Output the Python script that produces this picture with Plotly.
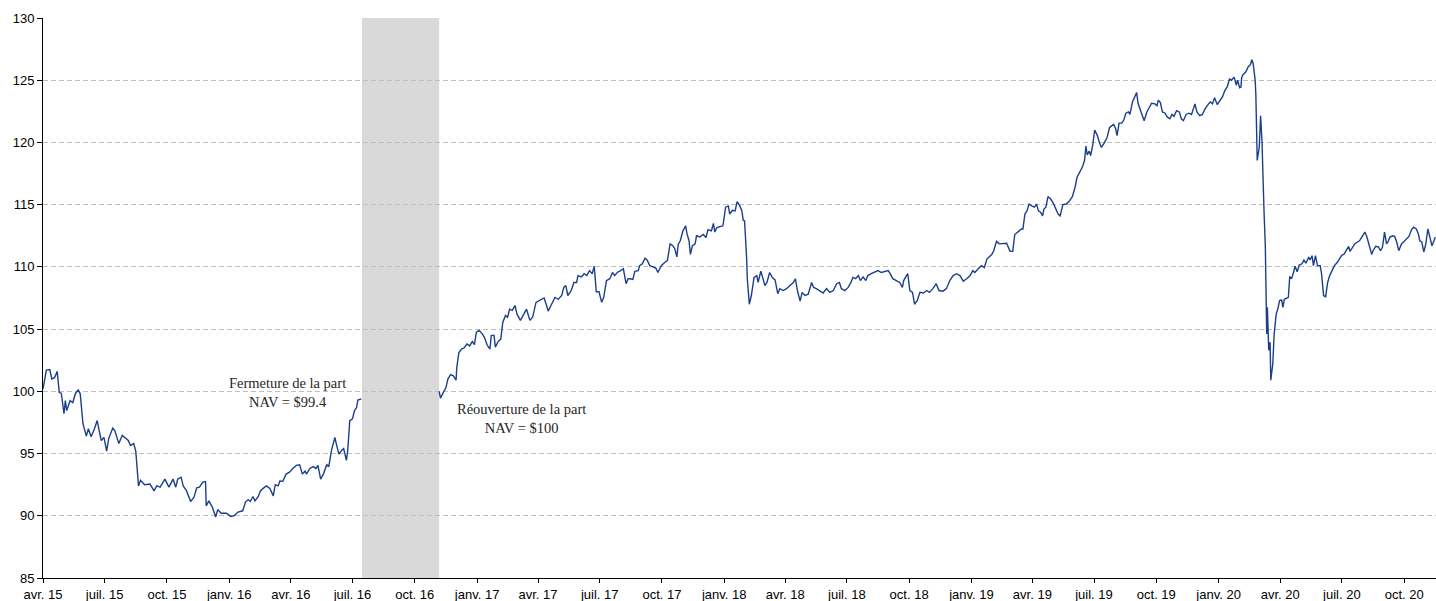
import pandas as pd
import plotly.graph_objects as go

START = pd.Timestamp("2015-04-01")

# Days since 2015-04-01 and NAV per share
days_a = [0,5,10,13,17,21,24,27,31,33,35,40,44,48,52,55,59,64,67,71,76,80,83,86,90,94,97,103,106,112,117,122,126,129,134,137,141,144,150,158,164,168,173,180,186,192,196,199,204,207,212,218,223,227,231,236,240,241,245,250,255,258,263,271,277,
          282,288,295,299,303,306,310,313,318,321,325,330,335,340,343,347,350,354,359,364,369,374,379,383,387,389,394,399,403,406,410,414,419,422,426,431,433,437,441,444,448,450,453,457,460,463,465,470]
nav_a = [100.2,101.7,101.75,101.0,101.1,101.6,99.9,99.85,98.2,99.25,98.45,99.25,99.1,99.85,100.1,99.8,97.4,96.4,97.0,96.35,97.0,97.65,96.85,96.05,96.3,95.2,96.2,97.05,96.85,95.8,96.45,96.25,96.05,95.65,95.8,95.2,92.4,92.85,92.5,92.55,92.0,92.4,92.3,92.95,92.3,92.95,92.3,92.95,93.1,92.4,92.0,91.15,91.5,92.25,92.3,92.7,92.75,90.8,91.2,90.7,89.9,90.5,90.2,90.2,89.95,
         90.0,90.3,90.4,91.1,91.3,91.15,91.55,91.2,91.55,92.0,92.2,92.4,92.2,91.6,92.5,92.4,92.8,92.75,93.35,93.5,93.8,94.05,94.1,93.35,93.6,93.35,93.8,93.95,93.8,94.05,92.95,93.35,94.1,93.95,95.25,96.3,95.8,94.95,95.25,95.4,94.45,95.25,97.65,97.8,98.45,98.7,99.3,99.4]

days_b = [585,587,591,595,598,602,606,610,611,614,618,622,626,630,634,637,640,644,649,652,656,660,662,666,668,672,676,679,683,686,689,693,697,700,705,709,714,719,723,728,734,740,743,746,751,756,761,766,769,772,775,780,784,788,790,795,799,803,807,811,814,817,821,825,828,832,837,841,844,848,853,857,861,864,867,871,874,879,881,885,889,892,896,901,905,908,913,918,922,926,930,933,936,938,941,945,949,951,954,956,959,963,965,970,975,979,982,987,990,992,995,1001,1004,1008,1012,1014,1018,1022,1025,1029,1032,1034,1036,1039,1040,1043,1046,1050,1054,1056,1060,1063,1066,1069,1073,1077,1081,1085,1088]
nav_b = [100.0,99.45,99.9,100.3,101.0,101.35,101.25,100.9,101.9,103.1,103.4,103.5,103.8,103.65,104.0,103.75,104.75,104.9,104.6,104.3,103.7,103.4,104.5,104.5,103.55,104.0,104.2,105.55,106.1,105.95,106.6,106.5,106.9,106.2,105.7,106.1,106.6,105.7,105.95,107.15,107.3,107.5,107.0,106.45,107.0,107.55,107.4,107.7,108.35,108.5,107.7,108.1,108.75,108.75,109.3,109.2,109.45,109.3,109.7,109.45,110.05,108.0,108.0,107.15,107.55,108.9,109.05,109.55,109.3,109.55,109.7,109.85,108.65,109.05,109.05,109.0,109.65,109.7,110.1,110.25,110.7,110.55,110.1,110.0,109.9,109.55,110.1,110.35,110.5,111.85,111.7,111.45,110.8,111.8,112.1,112.9,113.3,112.65,112.1,111.0,111.7,111.85,112.5,112.4,112.6,112.35,113.0,112.9,113.5,112.8,113.15,113.25,113.3,114.8,114.9,114.25,114.55,114.5,115.25,114.9,114.5,113.75,113.7,110.75,109.05,107.0,107.7,109.15,109.3,108.75,109.65,109.1,108.5,108.75,109.55,109.15,108.95,107.85,108.25]

days_c = [1093,1098,1103,1108,1111,1114,1118,1121,1125,1130,1135,1138,1142,1147,1152,1157,1162,1167,1172,1176,1179,1184,1189,1193,1196,1200,1204,1207,1211,1215,1218,1223,1228,1233,1238,1243,1248,1251,1255,1260,1265,1269,1271,1275,1277,1280,1284,1287,1291,1295,1300,1305,1309,1314,1319,1323,1329,1334,1339,1344,1349,1354,1359,1364,1369,1373,1376,1381,1386,1390,1394,1397,1401,1404,1408,1412,1417,1423,1428,1432,1435,1440,1445,1447,1450,1453,1456,1460,1464,1467,1470,1473,1476,1478,1481,1484,1488,1492,1496,1499,1502,1506,1511,1515,1520,1524,1527,1531,1535,1538,1540,1542,1545,1547,1550,1553,1557,1560,1563,1567,1571,1575,1578,1581,1584,1586,1589,1593,1596,1599,1603,1605,1609,1612,1615,1617]
nav_c = [108.1,108.25,108.5,108.75,109.05,108.1,107.25,107.95,107.7,107.8,108.75,108.35,108.25,108.1,107.9,108.25,107.95,108.1,108.65,108.75,108.25,108.1,108.35,108.75,109.15,109.05,109.3,108.9,109.2,108.9,109.3,109.45,109.55,109.7,109.55,109.65,109.7,109.45,109.05,108.9,108.75,108.35,108.9,109.3,109.45,108.1,107.95,107.0,107.3,107.95,107.9,108.1,107.95,108.25,108.65,108.1,108.05,108.25,108.9,109.3,109.45,109.3,108.85,109.05,109.3,109.7,109.55,109.85,110.1,109.95,110.65,110.8,111.0,111.3,112.05,111.85,111.9,111.9,111.25,111.25,112.6,112.85,113.05,113.05,114.25,114.5,115.05,114.9,114.8,115.05,114.5,114.4,114.1,114.65,114.8,115.65,115.45,115.1,114.65,114.25,114.1,115.0,115.05,115.25,115.65,116.4,117.2,117.6,118.05,118.55,119.7,119.0,119.3,118.95,119.75,121.0,120.55,120.0,119.6,119.95,120.35,121.2,121.3,121.45,121.1,120.55,121.55,121.55,121.8,122.35,122.45,122.25,123.3,123.7,124.0,123.15]

days_d = [1620,1624,1626,1630,1634,1637,1642,1645,1647,1650,1653,1657,1660,1664,1667,1670,1674,1678,1681,1684,1688,1692,1696,1701,1704,1708,1712,1716,1721,1724,1727,1730,1734,1738,1742,1745,1749,1752,1755,1759,1762,1764,1767,1769,1770,1772,1776,1780,1783,1785,1787,1790,1791,1793,1796,1798,1800,1803,1805,1807,1808,1810,1812,1813,1816,1818,1821,1824,1826,1829,1831,1833,1836,1839,1841,1844,1846,1849,1852,1855,1859,1862,1865,1869,1871,1874,1876,1879,1882,1886,1888,1891,1894,1897,1900,1903,1907,1911,1914,1918,1921,1925,1928,1930,1934,1937,1941,1944,1947,1950,1952,1955,1957,1960,1962,1964,1968,1972,1975,1978,1981,1984,1986,1989,1993,1996,1999,2002,2006,2009,2013,2017,2021,2024,2028,2031,2033,2036,2039,2042,2045,2047,2051,2054,2056]
nav_d = [122.7,122.15,121.75,122.45,122.85,123.15,123.1,122.95,123.4,123.2,122.45,122.35,122.05,121.9,122.25,122.1,122.55,122.45,121.9,121.75,122.25,122.35,122.25,123.1,122.45,122.15,122.25,122.7,123.1,123.25,123.1,123.6,123.05,123.4,123.7,124.15,124.5,125.1,125.0,125.25,124.6,125.0,124.4,124.45,125.2,125.45,125.65,126.1,126.25,126.65,126.35,125.0,123.8,118.55,119.6,122.15,120.15,114.55,111.6,104.6,106.75,103.3,103.95,100.9,102.2,104.6,106.2,106.75,107.3,107.35,106.75,107.4,107.5,107.55,109.2,109.1,109.45,110.05,109.6,110.15,110.25,110.55,110.3,110.8,110.55,110.9,110.1,110.9,110.1,110.1,109.45,107.7,107.6,108.75,109.3,109.65,110.1,110.35,110.6,110.95,111.0,111.4,111.65,111.25,111.65,111.85,112.0,112.1,112.35,112.65,112.8,112.4,112.0,111.25,111.0,111.3,111.65,111.6,111.3,111.6,112.8,111.85,112.0,112.4,112.5,112.45,112.0,111.3,111.85,112.0,112.2,112.45,113.0,113.2,113.05,112.65,112.1,112.0,111.2,111.85,113.05,112.5,111.7,112.1,112.4]

tick_labels = ["avr. 15", "juil. 15", "oct. 15", "janv. 16", "avr. 16", "juil. 16", "oct. 16",
               "janv. 17", "avr. 17", "juil. 17", "oct. 17", "janv. 18", "avr. 18", "juil. 18",
               "oct. 18", "janv. 19", "avr. 19", "juil. 19", "oct. 19", "janv. 20", "avr. 20",
               "juil. 20", "oct. 20"]

closure_period = ["2016-07-15", "2016-11-06"]
closure_text = "Fermeture de la part<br>NAV = $99.4"
reopen_text = "Réouverture de la part<br>NAV = $100"

for d, v in [(days_a, nav_a), (days_b, nav_b), (days_c, nav_c), (days_d, nav_d)]:
    assert len(d) == len(v), (len(d), len(v))

def to_dates(days):
    return list(START + pd.to_timedelta(days, unit="D"))

# closed period: break the line between the two segments
x = to_dates(days_a) + [None] + to_dates(days_b + days_c + days_d)
y = nav_a + [None] + nav_b + nav_c + nav_d

fig = go.Figure()
fig.add_trace(go.Scatter(x=x, y=y, mode="lines", connectgaps=False,
                         line=dict(color="#1C3F8C", width=1.4), showlegend=False,
                         hoverinfo="x+y"))

fig.add_shape(type="rect", xref="x", yref="paper",
              x0=closure_period[0], x1=closure_period[1], y0=0, y1=1,
              fillcolor="#D9D9D9", line=dict(width=0), layer="between")

serif = dict(family="Liberation Serif, DejaVu Serif, serif", size=14.5, color="#262626")
fig.add_annotation(x="2016-03-27", y=99.9, xref="x", yref="y", text=closure_text,
                   showarrow=False, font=serif, xanchor="center", yanchor="middle", align="center")
fig.add_annotation(x="2017-03-08", y=97.8, xref="x", yref="y", text=reopen_text,
                   showarrow=False, font=serif, xanchor="center", yanchor="middle", align="center")

tickvals = list(pd.date_range("2015-04-01", "2020-10-01", freq="QS"))
x_end = START + pd.Timedelta(days=2057)

fig.update_layout(
    width=1436, height=601,
    margin=dict(l=43, r=0, t=18, b=23, autoexpand=False),
    paper_bgcolor="white", plot_bgcolor="white",
    font=dict(family="Liberation Sans, Arial, sans-serif", size=13, color="#000000"),
    xaxis=dict(range=[START, x_end], tickvals=tickvals, ticktext=tick_labels,
               showgrid=False, showline=True, linecolor="#000000", linewidth=1,
               ticks="outside", ticklen=4, tickcolor="#000000", zeroline=False,
               automargin=False),
    yaxis=dict(range=[85, 130], dtick=5, tick0=85, showgrid=True,
               gridcolor="#BFBFBF", griddash="5px,3px", gridwidth=1,
               showline=True, linecolor="#000000", linewidth=1,
               ticks="outside", ticklen=5, tickcolor="#000000", zeroline=False,
               automargin=False),
)

# remove the page's default 8px body margin so the figure fills the window exactly
fig.write_html("out.html", config={"displayModeBar": False},
               post_script="document.body.style.margin='0';document.body.style.overflow='hidden';")
